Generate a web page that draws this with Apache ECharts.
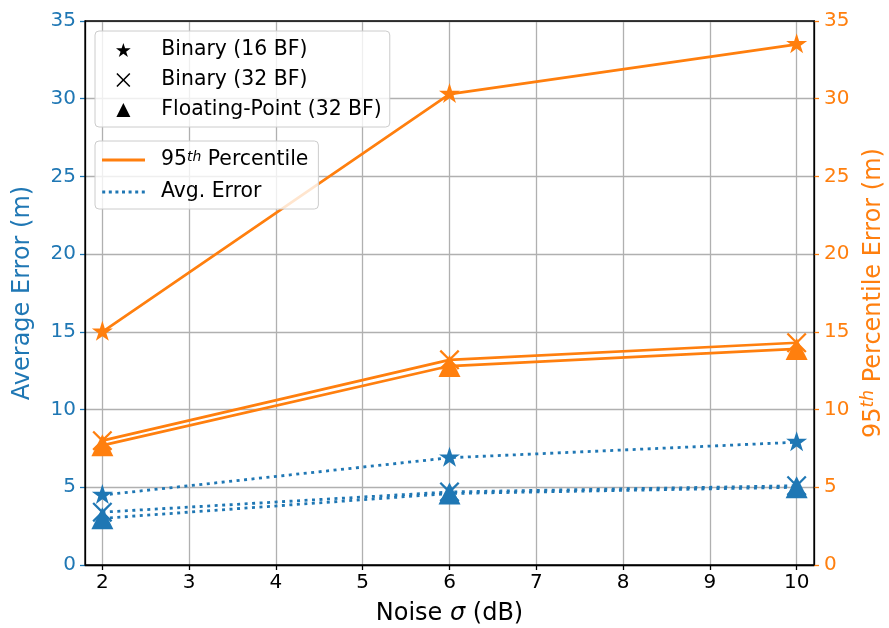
<!DOCTYPE html>
<html>
<head>
<meta charset="utf-8">
<script src="https://cdn.jsdelivr.net/npm/echarts@6/dist/echarts.min.js"></script>
<style>html,body{margin:0;padding:0;background:#fff}#c{width:889px;height:628px}</style>
</head>
<body>
<div id="c"></div>
<script>
// ---- data ----
var xValues = [2, 6, 10];
var xTicks = [2, 3, 4, 5, 6, 7, 8, 9, 10];
var p95Bin16 = [15.0, 30.3, 33.5];
var p95Bin32 = [8.0, 13.2, 14.3];
var p95Fp32 = [7.7, 12.8, 13.9];
var avgBin16 = [4.5, 6.9, 7.9];
var avgBin32 = [3.4, 4.7, 5.1];
var avgFp32 = [3.0, 4.6, 5.0];
var markerNames = ['Binary (16 BF)', 'Binary (32 BF)', 'Floating-Point (32 BF)'];
var lineNames = ['95th Percentile', 'Avg. Error'];

var BLUE = '#1f77b4', ORANGE = '#ff7f0e';
var FONT = 'DejaVu Sans';
var STAR = 'path://M100,0L122.45,69.1L195.1,69.1L136.3,111.8L158.8,180.9L100,138.2L41.2,180.9L63.7,111.8L4.9,69.1L77.55,69.1Z';
var XMARK = 'path://M0,8L8,0L50,42L92,0L100,8L58,50L100,92L92,100L50,58L8,100L0,92L42,50Z';
var TRI = 'path://M50,0L100,100L0,100Z';
var SOLID = 'path://M0,0h43v3h-43z';
var DOTS = 'path://M0,0h3v3h-3zM6.6,0h3v3h-3zM13.2,0h3v3h-3zM19.8,0h3v3h-3zM26.4,0h3v3h-3zM33,0h3v3h-3zM39.6,0h3v3h-3z';

function pairs(ys) { return xValues.map(function (x, i) { return [x, ys[i]]; }); }

var markerDefs = [
  { sym: STAR, size: [21, 20], off: [0, -1] },
  { sym: XMARK, size: [20, 20], off: [0, 0] },
  { sym: 'triangle', size: [22, 22], off: [0, 0] }
];

function mkSeries(name, ys, k, color, axis, dotted) {
  return {
    name: name, type: 'line', yAxisIndex: axis, data: pairs(ys),
    symbol: markerDefs[k].sym, symbolSize: markerDefs[k].size, symbolOffset: markerDefs[k].off,
    showSymbol: true, animation: false, silent: true,
    lineStyle: { color: color, width: dotted ? 2.8 : 2.7, type: dotted ? [3, 4.5] : 'solid' },
    itemStyle: { color: color, borderWidth: 0 },
    z: 3
  };
}

var series = [
  mkSeries('o16', p95Bin16, 0, ORANGE, 1, false),
  mkSeries('o32', p95Bin32, 1, ORANGE, 1, false),
  mkSeries('ofp', p95Fp32, 2, ORANGE, 1, false),
  mkSeries('b16', avgBin16, 0, BLUE, 0, true),
  mkSeries('b32', avgBin32, 1, BLUE, 0, true),
  mkSeries('bfp', avgFp32, 2, BLUE, 0, true)
];
// dummy series for legends
markerNames.concat(lineNames).forEach(function (n) {
  series.push({ name: n, type: 'line', data: [], symbol: 'none', animation: false });
});

var chart = echarts.init(document.getElementById('c'), null, { renderer: 'canvas' });
var legendText = {
  fontFamily: FONT, fontSize: 20.4, color: '#000', lineHeight: 20,
  rich: { sup: { fontFamily: FONT, fontSize: 14, fontStyle: 'italic', color: '#000', verticalAlign: 'top', lineHeight: 20, padding: [0, 0, 8, 0] } }
};
var option = {
  backgroundColor: '#fff',
  animation: false,
  grid: { left: 85, right: 75, top: 21, bottom: 63, containLabel: false, outerBoundsMode: 'none', show: true, borderColor: '#000', borderWidth: 1.3, backgroundColor: 'transparent', z: 2 },
  legend: [
    {
      orient: 'vertical', left: 95, top: 31, padding: [9, 8, 7, 21], itemGap: 10,
      itemWidth: 66, itemHeight: 14, symbolKeepAspect: true,
      backgroundColor: 'rgba(255,255,255,0.8)', borderColor: '#cccccc', borderWidth: 1, borderRadius: 4,
      selectedMode: false, textStyle: legendText,
      data: [
        { name: markerNames[0], icon: STAR, itemStyle: { color: '#000' } },
        { name: markerNames[1], icon: XMARK, itemStyle: { color: '#000' } },
        { name: markerNames[2], icon: TRI, itemStyle: { color: '#000' } }
      ]
    },
    {
      orient: 'vertical', left: 95, top: 141, padding: [9, 10, 7, 7], itemGap: 10,
      itemWidth: 65, itemHeight: 3, symbolKeepAspect: true,
      backgroundColor: 'rgba(255,255,255,0.8)', borderColor: '#cccccc', borderWidth: 1, borderRadius: 4,
      selectedMode: false, textStyle: legendText,
      formatter: function (n) { return n === '95th Percentile' ? '95{sup|th} Percentile' : n; },
      data: [
        { name: lineNames[0], icon: SOLID, itemStyle: { color: ORANGE } },
        { name: lineNames[1], icon: DOTS, itemStyle: { color: BLUE } }
      ]
    }
  ],
  xAxis: {
    type: 'value', min: 1.8, max: 10.2,
    name: 'Noise {i|σ} (dB)', nameLocation: 'middle', nameGap: 37,
    nameTextStyle: { fontFamily: FONT, fontSize: 24, color: '#000', rich: { i: { fontFamily: FONT, fontSize: 24, fontStyle: 'italic', color: '#000' } } },
    axisLine: { show: true, lineStyle: { color: '#000', width: 1.3 } },
    axisTick: { show: true, length: 5, customValues: xTicks, lineStyle: { color: '#000', width: 1.3 } },
    axisLabel: { customValues: xTicks, fontFamily: FONT, fontSize: 20, color: '#000', margin: 8 },
    splitLine: { show: true, lineStyle: { color: '#b0b0b0', width: 1.3 } }
  },
  yAxis: [
    {
      type: 'value', min: 0, max: 35, interval: 5, position: 'left',
      name: 'Average Error (m)', nameLocation: 'middle', nameGap: 50, nameRotate: 90,
      nameTextStyle: { fontFamily: FONT, fontSize: 24, color: BLUE },
      axisLine: { show: true, lineStyle: { color: '#000', width: 1.3 } },
      axisTick: { show: true, length: 5, lineStyle: { color: BLUE, width: 1.3 } },
      axisLabel: { fontFamily: FONT, fontSize: 20, color: BLUE, margin: 9 },
      splitLine: { show: true, lineStyle: { color: '#b0b0b0', width: 1.3 } }
    },
    {
      type: 'value', min: 0, max: 35, interval: 5, position: 'right',
      name: '95{sup|th} Percentile Error (m)', nameLocation: 'middle', nameGap: 42, nameRotate: 90,
      nameTextStyle: { fontFamily: FONT, fontSize: 24, color: ORANGE, rich: { sup: { fontFamily: FONT, fontSize: 17, fontStyle: 'italic', color: ORANGE, verticalAlign: 'top', padding: [0, 0, 10, 0] } } },
      axisLine: { show: true, lineStyle: { color: '#000', width: 1.3 } },
      axisTick: { show: true, length: 5, lineStyle: { color: ORANGE, width: 1.3 } },
      axisLabel: { fontFamily: FONT, fontSize: 20, color: ORANGE, margin: 10 },
      splitLine: { show: false }
    }
  ],
  series: series
};
chart.setOption(option);
</script>
</body>
</html>
